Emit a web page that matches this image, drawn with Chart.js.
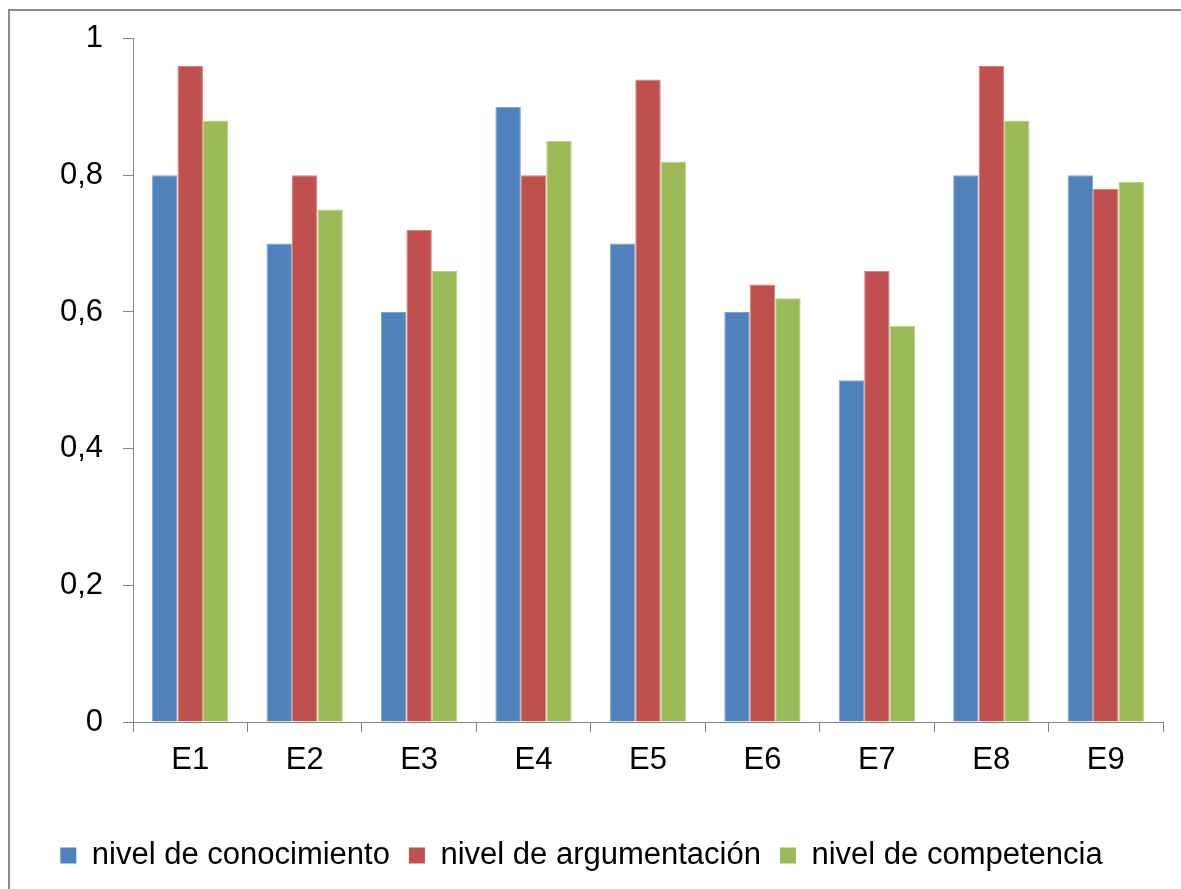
<!DOCTYPE html>
<html lang="es">
<head>
<meta charset="utf-8">
<title>Niveles por estudiante</title>
<script src="https://cdn.jsdelivr.net/npm/chart.js@4.4.1/dist/chart.umd.min.js"></script>
<style>
  html, body { margin: 0; padding: 0; background: #fff; overflow: hidden; }
  #wrap { position: relative; width: 1181px; height: 889px; }
  #frame {
    position: absolute; left: 8px; top: 9px; width: 1200px; height: 900px;
    border-left: 2px solid #8c8c8c; border-top: 2px solid #8c8c8c; box-sizing: border-box;
    pointer-events: none;
  }
  canvas { position: absolute; left: 0; top: 0; }
</style>
</head>
<body>
<div id="wrap">
  <canvas id="chart" width="1181" height="889"></canvas>
  <div id="frame"></div>
</div>
<script>
// Categories and series
const categories = ['E1', 'E2', 'E3', 'E4', 'E5', 'E6', 'E7', 'E8', 'E9'];
const seriesNames = ['nivel de conocimiento', 'nivel de argumentación', 'nivel de competencia'];
const conocimiento = [0.80, 0.70, 0.60, 0.90, 0.70, 0.60, 0.50, 0.80, 0.80];
const argumentacion = [0.96, 0.80, 0.72, 0.80, 0.94, 0.64, 0.66, 0.96, 0.78];
const competencia = [0.88, 0.75, 0.66, 0.85, 0.82, 0.62, 0.58, 0.88, 0.79];
const yTickLabels = ['0', '0,2', '0,4', '0,6', '0,8', '1'];

const seriesColors = ['#4F81BD', '#C0504D', '#9BBB59'];
const seriesEdges = ['#7FA3D1', '#D7807D', '#BBD389'];
const axisColor = '#868686';
const font = 'Liberation Sans, Arial, sans-serif';

const datasets = [conocimiento, argumentacion, competencia].map((values, i) => ({
  label: seriesNames[i],
  data: values,
  backgroundColor: seriesColors[i],
  borderColor: seriesEdges[i],
  borderWidth: 1,
  categoryPercentage: 0.667,
  barPercentage: 1.0
}));

new Chart(document.getElementById('chart'), {
  type: 'bar',
  data: { labels: categories, datasets },
  options: {
    responsive: false,
    animation: false,
    devicePixelRatio: 1,
    layout: { padding: { top: 38, right: 18, left: 0, bottom: 8 } },
    plugins: {
      tooltip: { enabled: false },
      legend: {
        position: 'bottom',
        labels: {
          color: '#000',
          font: { family: font, size: 31 },
          boxWidth: 16,
          boxHeight: 16,
          padding: 19,
          generateLabels: (chart) => chart.data.datasets.map((ds, i) => ({
            text: ds.label,
            fillStyle: seriesColors[i],
            strokeStyle: seriesColors[i],
            lineWidth: 0,
            hidden: false,
            datasetIndex: i,
            fontColor: '#000'
          }))
        }
      }
    },
    scales: {
      x: {
        grid: {
          offset: true,
          drawOnChartArea: false,
          drawTicks: true,
          tickLength: 10,
          color: axisColor
        },
        border: { display: true, color: axisColor, width: 1 },
        ticks: { color: '#000', font: { family: font, size: 31 }, padding: 10, maxRotation: 0 },
        afterFit: (s) => { s.height = 99; }
      },
      y: {
        min: 0,
        max: 1,
        ticks: {
          stepSize: 0.2,
          color: '#000',
          font: { family: font, size: 31 },
          padding: 20,
          callback: (v, i) => yTickLabels[i]
        },
        grid: {
          drawOnChartArea: false,
          drawTicks: true,
          tickLength: 10,
          color: axisColor
        },
        border: { display: true, color: axisColor, width: 1 },
        afterFit: (s) => { s.width = 133; }
      }
    }
  }
});
</script>
</body>
</html>
